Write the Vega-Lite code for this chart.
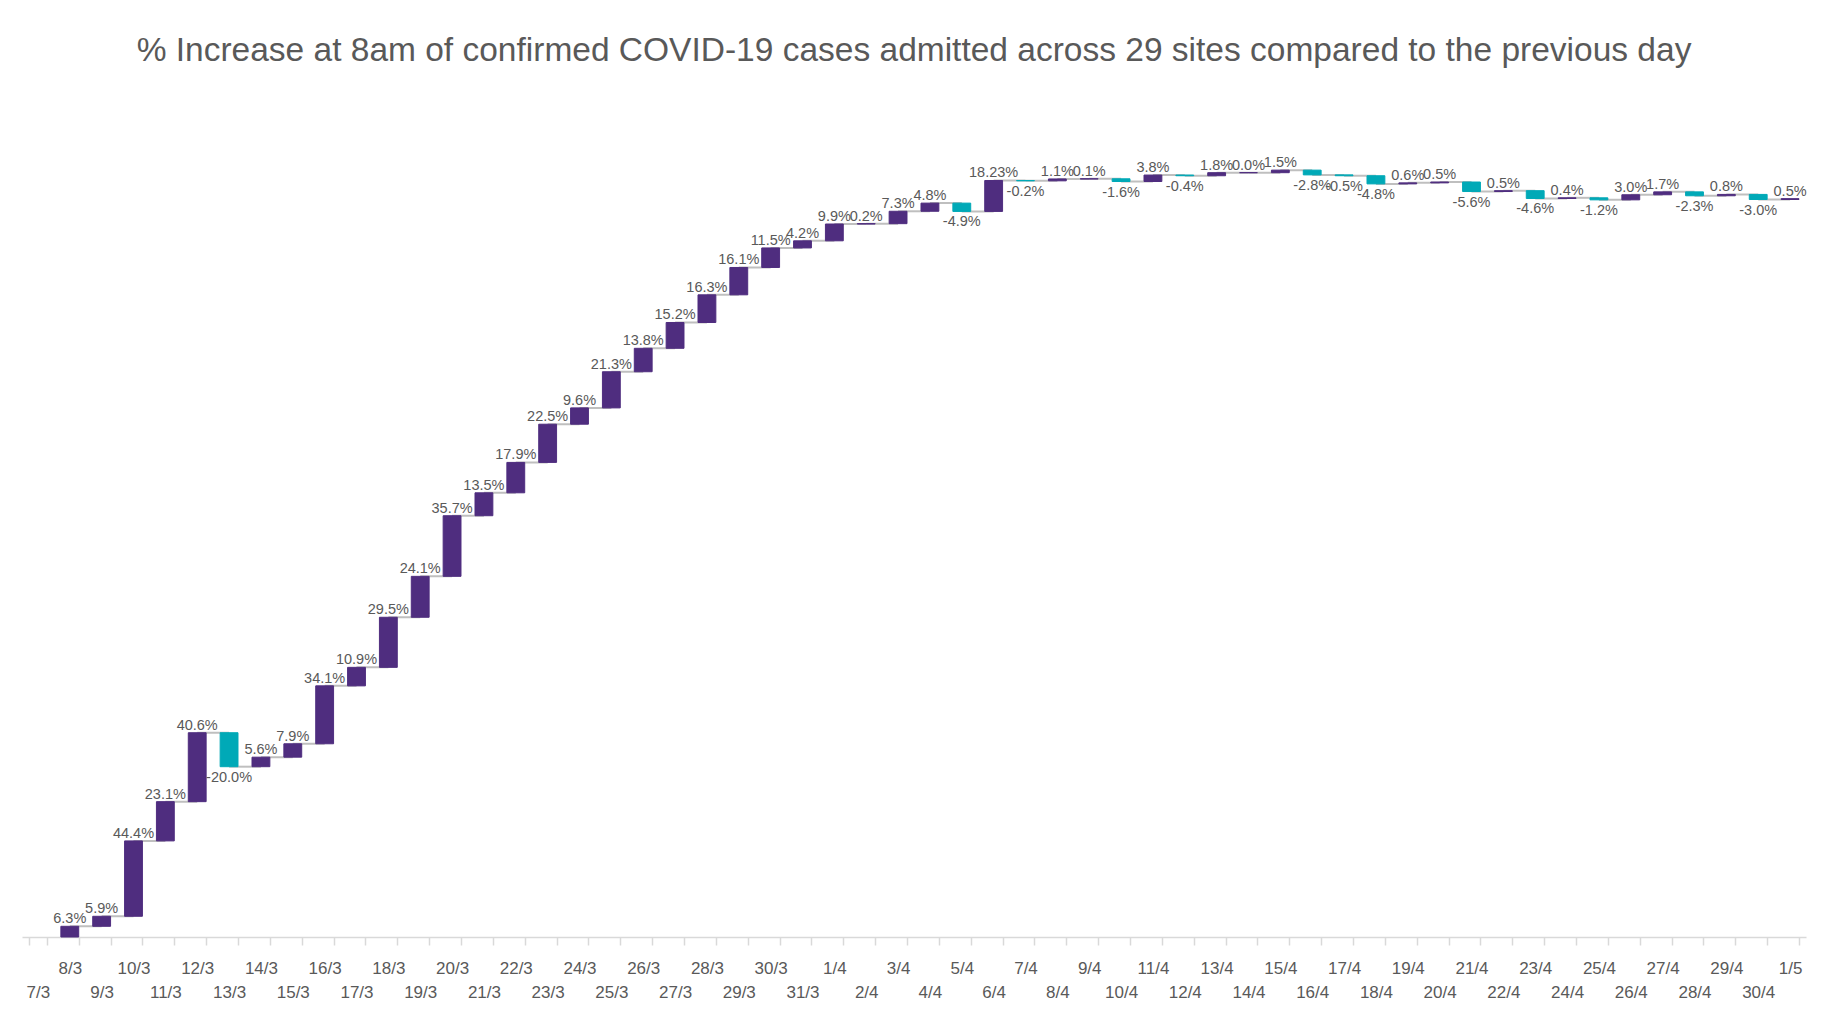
{
  "$schema": "https://vega.github.io/schema/vega-lite/v6.json",
  "width": 1784,
  "height": 849,
  "autosize": {"type": "none"},
  "padding": {"left": 22, "top": 88, "right": 19, "bottom": 96},
  "background": "white",
  "title": {
    "text": "% Increase at 8am of confirmed COVID-19 cases admitted across 29 sites compared to the previous day",
    "font": "Liberation Sans",
    "fontSize": 33.5,
    "fontWeight": "normal",
    "color": "#595959",
    "anchor": "middle",
    "baseline": "alphabetic",
    "offset": -6
  },
  "config": {"view": {"stroke": null}},
  "data": {
    "values": [
      {"d": "7/3"},
      {"d": "8/3", "pct": 6.3, "label": "6.3%", "start": 0, "end": 6.3, "dir": "up", "next": "9/3"},
      {"d": "9/3", "pct": 5.9, "label": "5.9%", "start": 6.3, "end": 12.2, "dir": "up", "next": "10/3"},
      {"d": "10/3", "pct": 44.4, "label": "44.4%", "start": 12.2, "end": 56.6, "dir": "up", "next": "11/3"},
      {"d": "11/3", "pct": 23.1, "label": "23.1%", "start": 56.6, "end": 79.7, "dir": "up", "next": "12/3"},
      {"d": "12/3", "pct": 40.6, "label": "40.6%", "start": 79.7, "end": 120.3, "dir": "up", "next": "13/3"},
      {"d": "13/3", "pct": -20.0, "label": "-20.0%", "start": 120.3, "end": 100.3, "dir": "down", "next": "14/3"},
      {"d": "14/3", "pct": 5.6, "label": "5.6%", "start": 100.3, "end": 105.9, "dir": "up", "next": "15/3"},
      {"d": "15/3", "pct": 7.9, "label": "7.9%", "start": 105.9, "end": 113.8, "dir": "up", "next": "16/3"},
      {"d": "16/3", "pct": 34.1, "label": "34.1%", "start": 113.8, "end": 147.9, "dir": "up", "next": "17/3"},
      {"d": "17/3", "pct": 10.9, "label": "10.9%", "start": 147.9, "end": 158.8, "dir": "up", "next": "18/3"},
      {"d": "18/3", "pct": 29.5, "label": "29.5%", "start": 158.8, "end": 188.3, "dir": "up", "next": "19/3"},
      {"d": "19/3", "pct": 24.1, "label": "24.1%", "start": 188.3, "end": 212.4, "dir": "up", "next": "20/3"},
      {"d": "20/3", "pct": 35.7, "label": "35.7%", "start": 212.4, "end": 248.1, "dir": "up", "next": "21/3"},
      {"d": "21/3", "pct": 13.5, "label": "13.5%", "start": 248.1, "end": 261.6, "dir": "up", "next": "22/3"},
      {"d": "22/3", "pct": 17.9, "label": "17.9%", "start": 261.6, "end": 279.5, "dir": "up", "next": "23/3"},
      {"d": "23/3", "pct": 22.5, "label": "22.5%", "start": 279.5, "end": 302.0, "dir": "up", "next": "24/3"},
      {"d": "24/3", "pct": 9.6, "label": "9.6%", "start": 302.0, "end": 311.6, "dir": "up", "next": "25/3"},
      {"d": "25/3", "pct": 21.3, "label": "21.3%", "start": 311.6, "end": 332.9, "dir": "up", "next": "26/3"},
      {"d": "26/3", "pct": 13.8, "label": "13.8%", "start": 332.9, "end": 346.7, "dir": "up", "next": "27/3"},
      {"d": "27/3", "pct": 15.2, "label": "15.2%", "start": 346.7, "end": 361.9, "dir": "up", "next": "28/3"},
      {"d": "28/3", "pct": 16.3, "label": "16.3%", "start": 361.9, "end": 378.2, "dir": "up", "next": "29/3"},
      {"d": "29/3", "pct": 16.1, "label": "16.1%", "start": 378.2, "end": 394.3, "dir": "up", "next": "30/3"},
      {"d": "30/3", "pct": 11.5, "label": "11.5%", "start": 394.3, "end": 405.8, "dir": "up", "next": "31/3"},
      {"d": "31/3", "pct": 4.2, "label": "4.2%", "start": 405.8, "end": 410.0, "dir": "up", "next": "1/4"},
      {"d": "1/4", "pct": 9.9, "label": "9.9%", "start": 410.0, "end": 419.9, "dir": "up", "next": "2/4"},
      {"d": "2/4", "pct": 0.2, "label": "0.2%", "start": 419.9, "end": 420.1, "dir": "up", "next": "3/4"},
      {"d": "3/4", "pct": 7.3, "label": "7.3%", "start": 420.1, "end": 427.4, "dir": "up", "next": "4/4"},
      {"d": "4/4", "pct": 4.8, "label": "4.8%", "start": 427.4, "end": 432.2, "dir": "up", "next": "5/4"},
      {"d": "5/4", "pct": -4.9, "label": "-4.9%", "start": 432.2, "end": 427.3, "dir": "down", "next": "6/4"},
      {"d": "6/4", "pct": 18.23, "label": "18.23%", "start": 427.3, "end": 445.53, "dir": "up", "next": "7/4"},
      {"d": "7/4", "pct": -0.2, "label": "-0.2%", "start": 445.53, "end": 445.33, "dir": "down", "next": "8/4"},
      {"d": "8/4", "pct": 1.1, "label": "1.1%", "start": 445.33, "end": 446.43, "dir": "up", "next": "9/4"},
      {"d": "9/4", "pct": 0.1, "label": "0.1%", "start": 446.43, "end": 446.53, "dir": "up", "next": "10/4"},
      {"d": "10/4", "pct": -1.6, "label": "-1.6%", "start": 446.53, "end": 444.93, "dir": "down", "next": "11/4"},
      {"d": "11/4", "pct": 3.8, "label": "3.8%", "start": 444.93, "end": 448.73, "dir": "up", "next": "12/4"},
      {"d": "12/4", "pct": -0.4, "label": "-0.4%", "start": 448.73, "end": 448.33, "dir": "down", "next": "13/4"},
      {"d": "13/4", "pct": 1.8, "label": "1.8%", "start": 448.33, "end": 450.13, "dir": "up", "next": "14/4"},
      {"d": "14/4", "pct": 0.0, "label": "0.0%", "start": 450.13, "end": 450.13, "dir": "up", "next": "15/4"},
      {"d": "15/4", "pct": 1.5, "label": "1.5%", "start": 450.13, "end": 451.63, "dir": "up", "next": "16/4"},
      {"d": "16/4", "pct": -2.8, "label": "-2.8%", "start": 451.63, "end": 448.83, "dir": "down", "next": "17/4"},
      {"d": "17/4", "pct": -0.5, "label": "-0.5%", "start": 448.83, "end": 448.33, "dir": "down", "next": "18/4"},
      {"d": "18/4", "pct": -4.8, "label": "-4.8%", "start": 448.33, "end": 443.53, "dir": "down", "next": "19/4"},
      {"d": "19/4", "pct": 0.6, "label": "0.6%", "start": 443.53, "end": 444.13, "dir": "up", "next": "20/4"},
      {"d": "20/4", "pct": 0.5, "label": "0.5%", "start": 444.13, "end": 444.63, "dir": "up", "next": "21/4"},
      {"d": "21/4", "pct": -5.6, "label": "-5.6%", "start": 444.63, "end": 439.03, "dir": "down", "next": "22/4"},
      {"d": "22/4", "pct": 0.5, "label": "0.5%", "start": 439.03, "end": 439.53, "dir": "up", "next": "23/4"},
      {"d": "23/4", "pct": -4.6, "label": "-4.6%", "start": 439.53, "end": 434.93, "dir": "down", "next": "24/4"},
      {"d": "24/4", "pct": 0.4, "label": "0.4%", "start": 434.93, "end": 435.33, "dir": "up", "next": "25/4"},
      {"d": "25/4", "pct": -1.2, "label": "-1.2%", "start": 435.33, "end": 434.13, "dir": "down", "next": "26/4"},
      {"d": "26/4", "pct": 3.0, "label": "3.0%", "start": 434.13, "end": 437.13, "dir": "up", "next": "27/4"},
      {"d": "27/4", "pct": 1.7, "label": "1.7%", "start": 437.13, "end": 438.83, "dir": "up", "next": "28/4"},
      {"d": "28/4", "pct": -2.3, "label": "-2.3%", "start": 438.83, "end": 436.53, "dir": "down", "next": "29/4"},
      {"d": "29/4", "pct": 0.8, "label": "0.8%", "start": 436.53, "end": 437.33, "dir": "up", "next": "30/4"},
      {"d": "30/4", "pct": -3.0, "label": "-3.0%", "start": 437.33, "end": 434.33, "dir": "down", "next": "1/5"},
      {"d": "1/5", "pct": 0.5, "label": "0.5%", "start": 434.33, "end": 434.83, "dir": "up"}
    ]
  },
  "encoding": {
    "x": {
      "field": "d",
      "type": "nominal",
      "scale": {
        "domain": ["7/3","8/3","9/3","10/3","11/3","12/3","13/3","14/3","15/3","16/3","17/3","18/3","19/3","20/3","21/3","22/3","23/3","24/3","25/3","26/3","27/3","28/3","29/3","30/3","31/3","1/4","2/4","3/4","4/4","5/4","6/4","7/4","8/4","9/4","10/4","11/4","12/4","13/4","14/4","15/4","16/4","17/4","18/4","19/4","20/4","21/4","22/4","23/4","24/4","25/4","26/4","27/4","28/4","29/4","30/4","1/5"],
        "paddingInner": 0.44,
        "paddingOuter": 0.22
      },
      "axis": {
        "title": null,
        "labelAngle": 0,
        "labelOverlap": false,
        "labelFont": "Liberation Sans",
        "labelFontSize": 17,
        "labelColor": "#595959",
        "labelBaseline": "top",
        "labelLineHeight": 24,
        "labelPadding": 15,
        "labelExpr": "((toNumber(split(datum.value,'/')[0]) + toNumber(split(datum.value,'/')[1])) % 2 == 0 && datum.value != '1/5') ? ['', datum.label] : [datum.label, '']",
        "domainColor": "#D9D9D9",
        "domainWidth": 1.5,
        "tickColor": "#D9D9D9",
        "tickWidth": 1.5,
        "tickSize": 8,
        "tickBand": "extent",
        "grid": false
      }
    }
  },
  "layer": [
    {
      "transform": [{"filter": "isValid(datum.next)"}],
      "mark": {"type": "rule", "color": "#BFBFBF", "strokeWidth": 2},
      "encoding": {
        "x2": {"field": "next"},
        "y": {"field": "end", "type": "quantitative", "scale": {"domain": [0, 500], "nice": false}, "axis": null}
      }
    },
    {
      "mark": {"type": "bar", "strokeWidth": 1},
      "encoding": {
        "y": {"field": "start", "type": "quantitative", "scale": {"domain": [0, 500], "nice": false}, "axis": null},
        "y2": {"field": "end"},
        "color": {"field": "dir", "type": "nominal", "scale": {"domain": ["up", "down"], "range": ["#4F2D7F", "#00A9B7"]}, "legend": null},
        "stroke": {"field": "dir", "type": "nominal", "scale": {"domain": ["up", "down"], "range": ["#4F2D7F", "#00A9B7"]}, "legend": null}
      }
    },
    {
      "transform": [{"filter": "isValid(datum.pct) && datum.pct >= 0"}],
      "mark": {"type": "text", "baseline": "alphabetic", "dy": -3, "font": "Liberation Sans", "fontSize": 14.5, "color": "#595959"},
      "encoding": {
        "y": {"field": "end", "type": "quantitative", "scale": {"domain": [0, 500], "nice": false}, "axis": null},
        "text": {"field": "label"}
      }
    },
    {
      "transform": [{"filter": "isValid(datum.pct) && datum.pct < 0"}],
      "mark": {"type": "text", "baseline": "top", "dy": 4, "font": "Liberation Sans", "fontSize": 14.5, "color": "#595959"},
      "encoding": {
        "y": {"field": "end", "type": "quantitative", "scale": {"domain": [0, 500], "nice": false}, "axis": null},
        "text": {"field": "label"}
      }
    }
  ]
}
